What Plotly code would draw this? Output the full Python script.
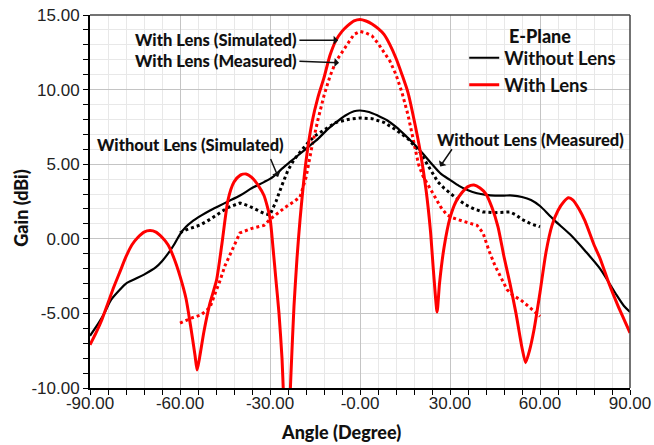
import plotly.graph_objects as go

# ---------------- data ----------------
wo_sim_x = [-90, -87, -85, -83, -80, -78, -75, -72, -68, -66, -64, -62, -60, -58, -56, -53, -50, -47, -44, -40, -36,
            -32, -29, -26, -23, -20, -17, -14, -11, -8, -5, -2, 0, 3, 6, 9, 12, 15, 18, 21, 24, 27, 30, 33,
            36, 39, 42, 45, 48, 51, 54, 57, 60, 63, 65, 70, 75, 80, 85, 88, 90]
wo_sim_y = [-6.5, -5.6, -4.9, -4.1, -3.4, -3.0, -2.7, -2.4, -1.9, -1.5, -1.0, -0.4, 0.3, 0.8, 1.15, 1.55, 1.9, 2.2, 2.5, 2.9,
            3.4, 3.8, 4.15, 4.7, 5.2, 5.7, 6.2, 6.7, 7.3, 7.8, 8.25, 8.55, 8.6, 8.5, 8.25, 7.95, 7.5, 6.95, 6.35, 5.7,
            5.0, 4.35, 3.95, 3.55, 3.25, 3.05, 2.95, 2.9, 2.9, 2.9, 2.8, 2.6, 2.2, 1.6, 1.2, 0.3, -0.8, -2.0, -3.6,
            -4.5, -4.9]

wo_meas_x = [-60, -58, -55, -53, -50, -47, -44, -40, -37, -35, -32, -30, -28, -26, -24, -22, -20, -18, -15,
             -12, -8, -4, 0, 4, 8, 12, 16, 20, 23, 26, 28, 31, 35, 38, 41, 45, 50, 52, 54, 57, 60]
wo_meas_y = [0.4, 0.6, 0.8, 0.95, 1.3, 1.7, 2.1, 2.4, 2.2, 2.0, 1.7, 1.6, 2.5, 3.6, 4.6, 5.3, 5.8, 6.3, 6.9,
             7.3, 7.8, 8.0, 8.1, 8.05, 7.8, 7.3, 6.7, 5.8, 4.8, 3.8, 3.4, 2.9, 2.3, 2.0, 1.8, 1.75, 1.8, 1.6,
             1.3, 1.0, 0.8]

w_sim_x = [-90, -88, -86, -84, -82, -80, -78, -76, -74, -72, -70, -68, -66, -64, -62, -60, -58, -56.5, -55,
           -54.3, -53.5, -52, -50, -47.8, -46, -44, -42, -40, -38, -36, -34, -32, -30, -29, -28, -27, -26,
           -25.5, -24.5, -23.5, -23, -22, -21, -20, -18, -16, -14, -12, -10, -8, -6, -4, -2, 0, 2, 4, 6, 8,
           10, 12, 14, 16, 18, 20, 22, 23.5, 24.5, 25.7, 26.5, 28, 30, 32, 34, 36, 38, 40, 42, 44, 46, 48,
           50, 52, 54, 55.2, 56.5, 58, 60, 62, 64, 66, 68, 69.5, 71, 73, 75, 78, 80, 83, 86, 88, 90]
w_sim_y = [-7.1, -6.3, -5.4, -4.3, -3.2, -2.2, -1.2, -0.4, 0.1, 0.45, 0.55, 0.45, 0.1, -0.4, -1.3, -2.5,
           -4.0, -5.8, -7.8, -8.8, -8.0, -6.2, -4.3, -2.75, -0.3, 2.6, 3.8, 4.25, 4.35, 4.1, 3.6, 2.9, 1.4,
           -0.6, -2.8, -5.0, -8.0, -10.5, -16, -11.5, -9.0, -4.5, -1.3, 1.25, 5.2, 7.8, 9.5, 10.8, 12.3,
           13.3, 13.9, 14.3, 14.6, 14.7, 14.6, 14.4, 14.1, 13.7, 13.0, 12.1, 11.0, 9.8, 8.0, 5.95, 3.3, 0.5,
           -2.2, -4.9, -3.0, -0.6, 1.4, 2.5, 3.1, 3.5, 3.6, 3.4, 3.0, 2.1, 0.8, -1.2, -3.0, -5.0, -7.3,
           -8.3, -7.5, -6.1, -3.6, -0.9, 0.9, 1.9, 2.5, 2.75, 2.6, 2.0, 1.2, -0.4, -1.3, -3.0, -4.5, -5.4,
           -6.3]

w_meas_x = [-60, -56, -53, -50, -48, -47, -45, -43, -40, -36, -32, -30, -27, -25, -22, -20, -18, -16, -14,
            -12, -10, -8, -6, -4, -2, 0, 2, 4, 6, 8, 10, 12, 14, 16, 18, 19.5, 21, 23, 25, 27, 29, 31, 34,
            39, 41, 43, 45, 47, 49, 51, 53.6, 56, 60]
w_meas_y = [-5.65, -5.3, -5.1, -4.6, -3.5, -3.0, -1.8, -0.9, 0.4, 0.7, 0.9, 1.3, 1.8, 2.1, 2.5, 2.8, 4.1,
            6.2, 8.0, 9.6, 10.9, 11.9, 12.5, 13.1, 13.7, 13.9, 13.8, 13.6, 13.1, 12.5, 11.9, 11.0, 9.8, 8.3,
            6.3, 5.0, 4.2, 3.5, 2.8, 2.1, 1.6, 1.4, 1.2, 0.9, 0.4, -0.8, -1.8, -2.6, -3.4, -3.8, -4.1, -4.5,
            -5.2]

x_tick_vals = [-90, -60, -30, 0, 30, 60, 90]
x_tick_text = ["-90.00", "-60.00", "-30.00", "-0.00", "30.00", "60.00", "90.00"]
y_tick_vals = [-10, -5, 0, 5, 10, 15]
y_tick_text = ["-10.00", "-5.00", "0.00", "5.00", "10.00", "15.00"]

RED = "#ff0000"
BLACK = "#000000"
BOLD = "Lato"
TXT = "#111111"

fig = go.Figure()
fig.add_trace(go.Scatter(x=wo_meas_x, y=wo_meas_y, mode="lines", showlegend=False,
                         line=dict(color=BLACK, width=3, dash="dot")))
fig.add_trace(go.Scatter(x=w_meas_x, y=w_meas_y, mode="lines", showlegend=False,
                         line=dict(color=RED, width=3, dash="dot")))
fig.add_trace(go.Scatter(x=wo_sim_x, y=wo_sim_y, mode="lines", name="<b>Without Lens</b>",
                         line=dict(color=BLACK, width=2.2, shape="spline", smoothing=0.8)))
fig.add_trace(go.Scatter(x=w_sim_x, y=w_sim_y, mode="lines", name="<b>With Lens</b>",
                         line=dict(color=RED, width=3, shape="spline", smoothing=0.6)))

ann_font = dict(family=BOLD, size=16.5, color=TXT, weight=900)
arrow = dict(text="", showarrow=True, axref="x", ayref="y", arrowhead=1, arrowsize=1,
             arrowwidth=1.5, arrowcolor=TXT)
center = dict(showarrow=False, xanchor="center", yanchor="middle")
annotations = [
    dict(x=-48.1, y=13.3, text="With Lens (Simulated)", font=ann_font, **center),
    dict(x=-48.1, y=11.95, text="With Lens (Measured)", font=ann_font, **center),
    dict(x=-56.5, y=6.3, text="Without Lens (Simulated)", font=ann_font, **center),
    dict(x=56.7, y=6.64, text="Without Lens (Measured)", font=ann_font, **center),
    dict(x=49, y=13.6, text="E-Plane", showarrow=False, xanchor="left", yanchor="middle",
         font=dict(family=BOLD, size=18, color=TXT, weight=900)),
    dict(x=-7.3, y=13.3, ax=-20.7, ay=13.3, **arrow),
    dict(x=-7.0, y=11.8, ax=-20.7, ay=11.9, **arrow),
    dict(x=-27.3, y=4.15, ax=-30.0, ay=5.45, **arrow),
    dict(x=26.7, y=4.85, ax=31.0, ay=6.1, **arrow),
    dict(x=0.465, y=-0.118, xref="paper", yref="paper", text="Angle (Degree)",
         font=dict(family=BOLD, size=18, color=TXT, weight=900), **center),
    dict(x=-0.128, y=0.483, xref="paper", yref="paper", text="Gain (dBi)", textangle=-90,
         font=dict(family=BOLD, size=18, color=TXT, weight=900), **center),
]

axis_common = dict(
    showline=True, linecolor=BLACK, linewidth=2, ticks="outside", ticklen=5, tickwidth=1.2,
    tickcolor=BLACK, showgrid=True, gridcolor="#c4c4c4", gridwidth=1, zeroline=False,
    automargin=False,
    tickfont=dict(family="Liberation Sans", size=17, color="#222222"),
)

fig.update_xaxes(range=[-90, 90], tickmode="array", tickvals=x_tick_vals, ticktext=x_tick_text,
                 ticklabelstandoff=-6,
                 minor=dict(dtick=6, tick0=-90, showgrid=True, gridcolor="#e8e8e8", ticks="outside",
                            ticklen=5, tickcolor=BLACK), **axis_common)
fig.update_yaxes(range=[-10, 15], tickmode="array", tickvals=y_tick_vals, ticktext=y_tick_text,
                 minor=dict(dtick=1, tick0=-10, showgrid=True, gridcolor="#e8e8e8", ticks="outside",
                            ticklen=5, tickcolor=BLACK), **axis_common)

fig.update_layout(
    width=654, height=445,
    margin=dict(l=90, r=24, t=15, b=57, autoexpand=False),
    plot_bgcolor="white", paper_bgcolor="white",
    annotations=annotations,
    shapes=[dict(type="line", xref="paper", yref="paper", x0=0, x1=1, y0=1, y1=1,
                 line=dict(color="#444444", width=1.5)),
            dict(type="line", xref="paper", yref="paper", x0=1, x1=1, y0=0, y1=1,
                 line=dict(color="#444444", width=1.5))],
    legend=dict(x=0.693, y=0.935, xanchor="left", yanchor="top", bgcolor="rgba(0,0,0,0)",
                font=dict(family=BOLD, size=18.5, color=TXT, weight=900),
                tracegroupgap=0, itemwidth=30),
)

fig.write_html("out.html", config={"displayModeBar": False},
               post_script="document.body.style.margin='0';document.body.style.overflow='hidden';")
